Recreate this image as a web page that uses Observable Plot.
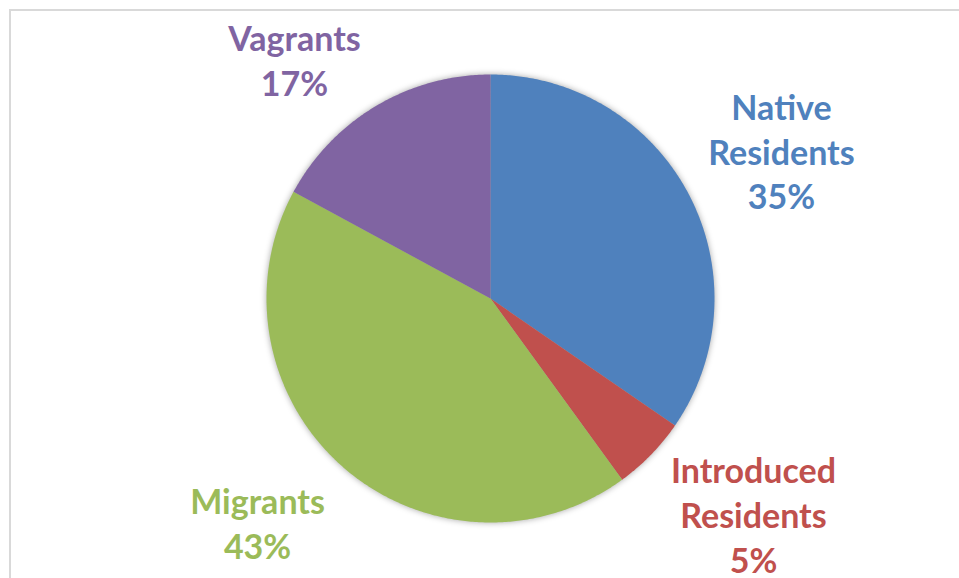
<!DOCTYPE html>
<html>
<head>
<meta charset="utf-8">
<script src="https://cdn.jsdelivr.net/npm/d3@7"></script>
<script src="https://cdn.jsdelivr.net/npm/@observablehq/plot@0.6"></script>
<style>
  html, body { margin: 0; padding: 0; background: #fff; }
  #wrap { position: relative; width: 959px; height: 578px; overflow: hidden; }
  #frame { position: absolute; left: 9px; top: 9px; width: 2000px; height: 2000px;
           border-left: 2px solid #d9d9d9; border-top: 2px solid #d9d9d9; pointer-events: none; }
  #chart { position: absolute; left: 0; top: 0; }
</style>
</head>
<body>
<div id="wrap"><div id="chart"></div><div id="frame"></div></div>
<script>
// ---- data ----
const categories = ["Native\nResidents", "Introduced\nResidents", "Migrants", "Vagrants"];
const values = [34.6, 5.4, 42.9, 17.1];
const pctLabels = ["35%", "5%", "43%", "17%"];
const colors = ["#4F81BD", "#C0504D", "#9BBB59", "#8064A2"];

// ---- layout (not data) ----
const W = 959, H = 578;
const cx = 490, cy = 298, R = 224;           // pie centre & radius, px
// label block centres, in pie-radius units (y up)
const labelPos = [[1.299, 0.662], [1.174, -0.960], [-1.040, -0.998], [-0.875, 1.070]];

const slices = d3.pie().sort(null).value(d => d.value)(
  categories.map((c, i) => ({name: c, value: values[i], color: colors[i], pct: pctLabels[i]}))
);

const pts = [];
for (const s of slices) {
  pts.push({name: s.data.name, x: 0, y: 0});
  const n = Math.max(2, Math.ceil((s.endAngle - s.startAngle) / (Math.PI / 360)));
  for (let k = 0; k <= n; k++) {
    const a = s.startAngle + (s.endAngle - s.startAngle) * k / n;
    pts.push({name: s.data.name, x: Math.sin(a), y: Math.cos(a)});
  }
}

const labels = slices.map((s, i) => ({
  text: s.data.name + "\n" + s.data.pct,
  name: s.data.name,
  x: labelPos[i][0], y: labelPos[i][1]
}));

const plot = Plot.plot({
  width: W, height: H,
  margin: 0,
  x: {domain: [-cx / R, (W - cx) / R], axis: null},
  y: {domain: [-(H - cy) / R, cy / R], axis: null},
  color: {domain: categories, range: colors},
  style: {background: "transparent"},
  marks: [
    Plot.line(pts, {x: "x", y: "y", z: "name", fill: "name", stroke: "none", curve: "linear-closed"}),
    Plot.text(labels, {x: "x", y: "y", text: "text", fill: "name", fontSize: 34, fontWeight: "bold",
      fontFamily: "Lato", lineHeight: 1.32, lineAnchor: "middle", textAnchor: "middle"})
  ]
});
document.getElementById("chart").appendChild(plot);
d3.select(plot).select('g[aria-label="line"]').style("filter", "drop-shadow(0px 0px 3px rgba(0,0,0,0.35))");
</script>
</body>
</html>
